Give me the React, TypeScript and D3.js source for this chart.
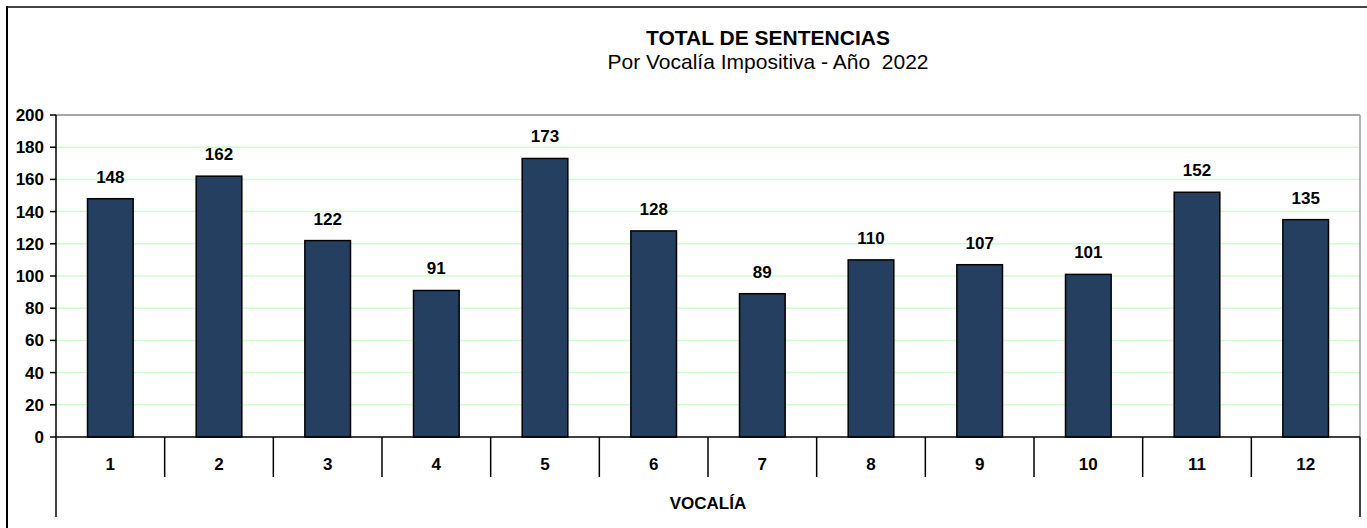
import React from 'react';
import * as d3 from 'd3';

const vocalias = ['1', '2', '3', '4', '5', '6', '7', '8', '9', '10', '11', '12'];
const sentencias = [148, 162, 122, 91, 173, 128, 89, 110, 107, 101, 152, 135];
const yTicks = [0, 20, 40, 60, 80, 100, 120, 140, 160, 180, 200];

const W = 1367;
const H = 528;
const plot = { left: 56, right: 1360, top: 115, bottom: 437 };
const font = 'Liberation Sans, Arial, sans-serif';

const App = () => {
  const x = d3.scaleBand().domain(vocalias).range([plot.left, plot.right]).paddingInner(0.58).paddingOuter(0.29);
  const xCat = d3.scaleBand().domain(vocalias).range([plot.left, plot.right]);
  const y = d3.scaleLinear().domain([0, 200]).range([plot.bottom, plot.top]);

  return (
    <svg width={W} height={H} style={{ position: 'absolute', left: 0, top: 0 }} fontFamily={font}>
      <rect x={0} y={0} width={W} height={H} fill="#fff" />
      {/* frame */}
      <line x1={8} y1={7} x2={W} y2={7} stroke="#444" strokeWidth={2} />
      <line x1={7} y1={6} x2={7} y2={H} stroke="#000" strokeWidth={2} />

      <text x={768} y={45} textAnchor="middle" fontSize={21} fontWeight="bold">TOTAL DE SENTENCIAS</text>
      <text x={768} y={69} textAnchor="middle" fontSize={21} style={{ whiteSpace: 'pre' }}>Por Vocalía Impositiva - Año  2022</text>

      {/* grid */}
      {yTicks.filter(t => t > 0 && t < 200).map(t => (
        <line key={t} x1={plot.left} x2={plot.right} y1={y(t)} y2={y(t)} stroke="#ccffcc" strokeWidth={1.5} />
      ))}
      <line x1={plot.left} x2={plot.right} y1={y(200)} y2={y(200)} stroke="#888" strokeWidth={1.5} />
      <line x1={plot.right} x2={plot.right} y1={plot.top} y2={plot.bottom} stroke="#999" strokeWidth={1.5} />

      {/* bars */}
      {sentencias.map((v, i) => (
        <g key={i}>
          <rect x={x(vocalias[i])!} y={y(v)} width={x.bandwidth()} height={y(0) - y(v)} fill="#253f60" stroke="#000" strokeWidth={1.5} />
          <text x={x(vocalias[i])! + x.bandwidth() / 2} y={y(v) - 16} textAnchor="middle" fontSize={17} fontWeight="bold">{v}</text>
        </g>
      ))}

      {/* y axis */}
      <line x1={plot.left} x2={plot.left} y1={plot.top} y2={plot.bottom} stroke="#000" strokeWidth={1.5} />
      {yTicks.map(t => (
        <g key={t}>
          <line x1={plot.left - 6} x2={plot.left} y1={y(t)} y2={y(t)} stroke="#000" strokeWidth={1.5} />
          <text x={plot.left - 12} y={y(t) + 6} textAnchor="end" fontSize={17} fontWeight="bold">{t}</text>
        </g>
      ))}

      {/* x axis */}
      <line x1={plot.left} x2={plot.right} y1={plot.bottom} y2={plot.bottom} stroke="#000" strokeWidth={1.5} />
      {vocalias.map((c, i) => (
        <g key={c}>
          {i > 0 && <line x1={xCat(c)!} x2={xCat(c)!} y1={plot.bottom} y2={477} stroke="#000" strokeWidth={1.5} />}
          <text x={xCat(c)! + xCat.bandwidth() / 2} y={470} textAnchor="middle" fontSize={17} fontWeight="bold">{c}</text>
        </g>
      ))}
      <line x1={plot.left} x2={plot.left} y1={plot.bottom} y2={517} stroke="#000" strokeWidth={1.5} />
      <line x1={plot.right} x2={plot.right} y1={plot.bottom} y2={517} stroke="#000" strokeWidth={1.5} />
      <text x={(plot.left + plot.right) / 2} y={509} textAnchor="middle" fontSize={17} fontWeight="bold">VOCALÍA</text>
    </svg>
  );
};

export default App;
